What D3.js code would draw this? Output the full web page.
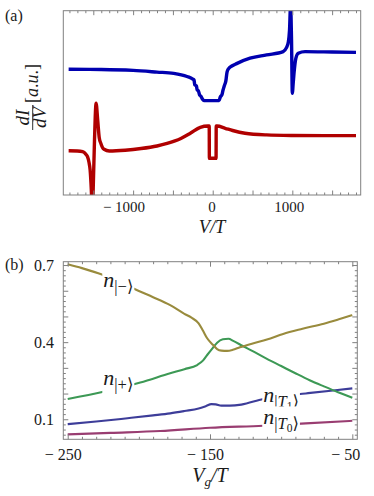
<!DOCTYPE html>
<html><head><meta charset="utf-8">
<script src="https://cdn.jsdelivr.net/npm/d3@7"></script>
<style>
body{margin:0;background:#fff;}
text{font-family:"Liberation Serif","DejaVu Serif",serif;fill:#1a1a1a;}
</style></head>
<body>
<svg id="c" width="374" height="496"></svg>
<script>
// ---------- Panel (a) data: dI/dV vs V/T (arbitrary units) ----------
const blueV = [-1810,-1400,-1000,-700,-490,-323,-250,-235,-225,-205,-195,-180,-165,-150,-130,-110,80,95,115,130,145,165,180,200,240,300,469,677,885,925,950,965,978,990,1000,1012,1025,1045,1075,1160,1500,1800];
const blueI = [0.682,0.681,0.676,0.667,0.660,0.643,0.629,0.624,0.597,0.592,0.570,0.565,0.543,0.537,0.521,0.512,0.512,0.532,0.543,0.570,0.592,0.619,0.667,0.686,0.700,0.713,0.742,0.760,0.778,0.798,0.830,0.895,1.03,0.841,0.552,0.613,0.678,0.743,0.769,0.778,0.776,0.774];
const redV = [-1810,-1700,-1635,-1595,-1573,-1555,-1540,-1525,-1512,-1500,-1485,-1465,-1445,-1425,-1406,-1385,-1365,-1300,-1100,-900,-700,-573,-400,-281,-156,-60,-44,-42,42,44,56,156,250,406,677,1000,1400,1800];
const redI = [0.240,0.239,0.235,0.222,0.208,0.179,0.136,0.027,-0.109,0.054,0.298,0.498,0.407,0.309,0.281,0.258,0.248,0.239,0.243,0.252,0.266,0.280,0.307,0.335,0.367,0.374,0.374,0.199,0.199,0.374,0.374,0.362,0.350,0.335,0.326,0.323,0.322,0.322];
const aTickLabels = [-1000, 0, 1000];
const aMajorTicks = [-1500,-1000,-500,0,500,1000,1500];

// ---------- Panel (b) data: occupations vs Vg/T ----------
const vgMinus = [-250,-240,-225,-212,-200,-190,-178,-168,-163,-158,-155,-152,-148,-145,-142,-138,-134,-129,-120,-110,-98.6,-85,-70,-60,-50];
const nMinus  = [0.703,0.688,0.661,0.630,0.599,0.575,0.544,0.510,0.495,0.473,0.445,0.415,0.390,0.373,0.367,0.366,0.370,0.380,0.395,0.410,0.432,0.452,0.472,0.488,0.505];
const vgPlus  = [-250,-225,-199,-178,-168,-159,-155,-152,-148,-145,-141,-137,-133.7,-127,-120,-110,-100,-90,-80,-70,-60,-50];
const nPlus   = [0.179,0.207,0.243,0.279,0.295,0.311,0.328,0.350,0.378,0.398,0.411,0.413,0.405,0.385,0.365,0.335,0.307,0.279,0.252,0.228,0.205,0.184];
const vgT1 = [-250,-230,-208,-190,-178,-168,-158,-153,-149,-146,-142,-136,-128,-112.6,-100,-82.7,-63.5,-50];
const nT1  = [0.081,0.091,0.104,0.115,0.123,0.132,0.142,0.151,0.159,0.158,0.153,0.153,0.157,0.179,0.190,0.2005,0.212,0.220];
const vgT0 = [-250,-220,-185,-150,-112.6,-82.7,-50];
const nT0  = [0.041,0.047,0.054,0.067,0.075,0.084,0.094];
const bXLabels = [-250, -150, -50];
const bXMajor = [-250, -150, -50];
const bYLabels = [0.1, 0.4, 0.7];

const svg = d3.select("#c");
const frameColor = "#808080";

function fmt(d){ return d < 0 ? "\u2212 " + Math.abs(d) : String(d); }

// ======== Panel (a) ========
const ax = d3.scaleLinear().domain([-1877, 1859]).range([63.3, 360.7]);
const ay = d3.scaleLinear().domain([0, 1]).range([195, 10.7]);

svg.append("clipPath").attr("id","clipA").append("rect")
  .attr("x",63.3).attr("y",10.7).attr("width",360.7-63.3).attr("height",195-10.7);

const lineA = d3.line().x(d=>ax(d[0])).y(d=>ay(d[1])).curve(d3.curveMonotoneX);
const gA = svg.append("g").attr("clip-path","url(#clipA)");
gA.append("path").datum(blueV.map((v,i)=>[v,blueI[i]]))
  .attr("d",lineA).attr("fill","none").attr("stroke","#0000b0").attr("stroke-width",3.4)
  .attr("stroke-linejoin","round").attr("stroke-linecap","butt");
gA.append("path").datum(redV.map((v,i)=>[v,redI[i]]))
  .attr("d",lineA).attr("fill","none").attr("stroke","#b00000").attr("stroke-width",3.4)
  .attr("stroke-linejoin","round").attr("stroke-linecap","butt");

function ticksX(scale, yBottom, yTop, minorVals, majorVals, minLen, majLen){
  const all = minorVals.filter(v => !majorVals.includes(v));
  [[d3.axisBottom, yBottom],[d3.axisTop, yTop]].forEach(([fn, y])=>{
    const g1 = svg.append("g").attr("transform",`translate(0,${y})`)
      .call(fn(scale).tickValues(all).tickSize(-minLen).tickFormat(""));
    g1.select(".domain").remove();
    const g2 = svg.append("g").attr("transform",`translate(0,${y})`)
      .call(fn(scale).tickValues(majorVals).tickSize(-majLen).tickFormat(""));
    g2.select(".domain").remove();
  });
  svg.selectAll(".tick line").attr("stroke",frameColor);
}
function ticksY(scale, xLeft, xRight, minorVals, majorVals, minLen, majLen){
  const all = minorVals.filter(v => !majorVals.some(m=>Math.abs(m-v)<1e-9));
  [[d3.axisLeft, xLeft],[d3.axisRight, xRight]].forEach(([fn, x])=>{
    const g1 = svg.append("g").attr("transform",`translate(${x},0)`)
      .call(fn(scale).tickValues(all).tickSize(-minLen).tickFormat(""));
    g1.select(".domain").remove();
    const g2 = svg.append("g").attr("transform",`translate(${x},0)`)
      .call(fn(scale).tickValues(majorVals).tickSize(-majLen).tickFormat(""));
    g2.select(".domain").remove();
  });
  svg.selectAll(".tick line").attr("stroke",frameColor);
}

ticksX(ax, 195, 10.7, d3.range(-1800,1801,100), aMajorTicks, 2.5, 4.5);

svg.append("rect").attr("x",63.3).attr("y",10.7).attr("width",360.7-63.3).attr("height",195-10.7)
  .attr("fill","none").attr("stroke",frameColor).attr("stroke-width",1);

// x tick labels (a)
aTickLabels.forEach(d=>{
  const nd = String(Math.abs(d)).length;
  svg.append("text").attr("x", ax(d) + nd*3).attr("y",212)
    .attr("text-anchor","end").attr("font-size",15).text(fmt(d));
});
svg.append("text").attr("x",212).attr("y",233).attr("text-anchor","middle")
  .attr("font-size",18.5).attr("font-style","italic").text("V/T");
svg.append("text").attr("x",5).attr("y",21).attr("font-size",16).text("(a)");

// y label (a)
const yl = svg.append("g").attr("transform","translate(32.7,96) rotate(-90)");
yl.append("text").attr("x",-21.5).attr("y",-4).attr("text-anchor","middle")
  .attr("font-size",19).attr("font-style","italic").text("dI");
yl.append("line").attr("x1",-34).attr("x2",-9).attr("y1",0).attr("y2",0)
  .attr("stroke","#1a1a1a").attr("stroke-width",0.9);
yl.append("text").attr("x",-21.5).attr("y",13.5).attr("text-anchor","middle")
  .attr("font-size",19).attr("font-style","italic").text("dV");
const au = yl.append("text").attr("x",-7).attr("y",5).attr("font-size",18);
au.append("tspan").text("[");
au.append("tspan").attr("font-style","italic").text("a");
au.append("tspan").text(".");
au.append("tspan").attr("font-style","italic").text("u");
au.append("tspan").text(".]");

// ======== Panel (b) ========
const bx = d3.scaleLinear().domain([-253.1, -46.5]).range([63.3, 357.3]);
const by = d3.scaleLinear().domain([0.022, 0.713]).range([439.3, 261.7]);

svg.append("clipPath").attr("id","clipB").append("rect")
  .attr("x",63.3).attr("y",261.7).attr("width",357.3-63.3).attr("height",439.3-261.7);
const lineB = d3.line().x(d=>bx(d[0])).y(d=>by(d[1])).curve(d3.curveMonotoneX);
const gB = svg.append("g").attr("clip-path","url(#clipB)");
const seriesB = [
  {x:vgT0, y:nT0, c:"#993d71"},
  {x:vgT1, y:nT1, c:"#3d3d99"},
  {x:vgPlus, y:nPlus, c:"#3d9955"},
  {x:vgMinus, y:nMinus, c:"#998b3d"},
];
seriesB.forEach(s=>{
  gB.append("path").datum(s.x.map((v,i)=>[v,s.y[i]]))
    .attr("d",lineB).attr("fill","none").attr("stroke",s.c).attr("stroke-width",2.1)
    .attr("stroke-linejoin","round");
});

ticksX(bx, 439.3, 261.7, d3.range(-250,-49,10), bXMajor, 2.5, 5);
ticksY(by, 63.3, 357.3, d3.range(0.04,0.7001,0.02).map(v=>+v.toFixed(2)), d3.range(0.1,0.7001,0.1).map(v=>+v.toFixed(1)), 2.5, 5);

svg.append("rect").attr("x",63.3).attr("y",261.7).attr("width",357.3-63.3).attr("height",439.3-261.7)
  .attr("fill","none").attr("stroke",frameColor).attr("stroke-width",1);

bXLabels.forEach(d=>{
  const nd = String(Math.abs(d)).length;
  svg.append("text").attr("x", bx(d) + nd*4 + (nd===3?2:0)).attr("y",459.5)
    .attr("text-anchor","end").attr("font-size",16).text(fmt(d));
});
bYLabels.forEach(d=>{
  svg.append("text").attr("x",54).attr("y",by(d)+5.5)
    .attr("text-anchor","end").attr("font-size",16).text(d.toFixed(1));
});
const vg = svg.append("text").attr("x",210).attr("y",482).attr("text-anchor","middle")
  .attr("font-size",20).attr("font-style","italic");
vg.append("tspan").text("V");
vg.append("tspan").attr("font-size",13).attr("dy",4).text("g");
vg.append("tspan").attr("dy",-4).text("/T");
svg.append("text").attr("x",5).attr("y",270).attr("font-size",16).text("(b)");

// curve labels with white background (positions in data units)
const labels = [
  {x:-225, y:0.616, sub:[["|\u2212\u27e9",""]]},
  {x:-225, y:0.233, sub:[["|+\u27e9",""]]},
  {x:-112.6, y:0.168, sub:[["|",""],["T","i"],["1","s"],["\u27e9",""]]},
  {x:-112.6, y:0.080, sub:[["|",""],["T","i"],["0","s"],["\u27e9",""]]},
];
labels.forEach(l=>{
  const g = svg.append("g");
  const t = g.append("text").attr("x",bx(l.x)).attr("y",by(l.y)).attr("font-size",22);
  t.append("tspan").attr("font-style","italic").text("n");
  let first = true, lvl = 0;
  l.sub.forEach(([s,kind])=>{
    const ts = t.append("tspan").text(s);
    let target = kind==="s" ? 2 : 1;
    let dy = 0;
    if (first){ dy = 5; first=false; lvl=1; }
    if (target===2 && lvl===1){ dy += 3; lvl=2; }
    else if (target===1 && lvl===2){ dy -= 3; lvl=1; }
    if (dy) ts.attr("dy",dy);
    ts.attr("font-size", kind==="s" ? 11.5 : 16.5);
    if (kind==="i") ts.attr("font-style","italic");
  });
  const bb = t.node().getBBox();
  g.insert("rect","text").attr("x",bb.x-1).attr("y",bb.y+2).attr("width",bb.width+2).attr("height",bb.height-3)
    .attr("fill","#fff");
});
</script>
</body></html>
